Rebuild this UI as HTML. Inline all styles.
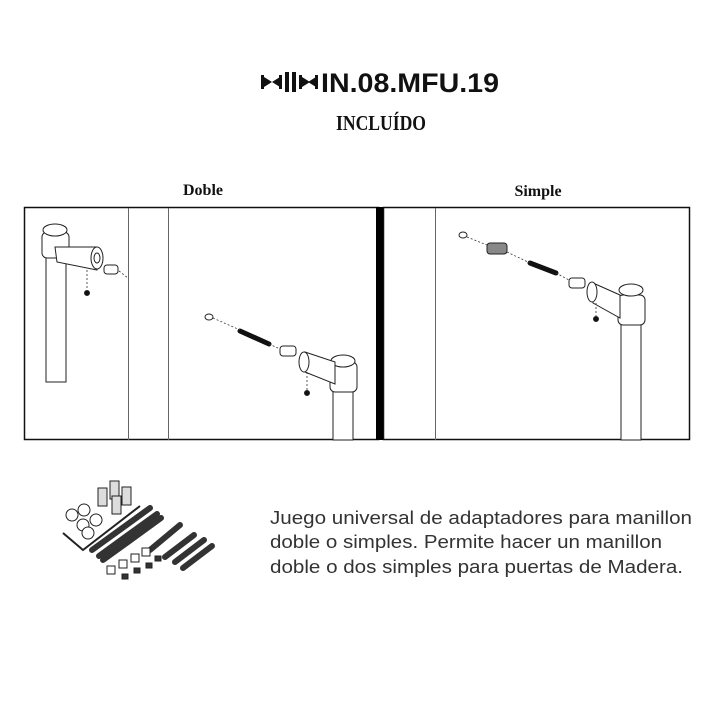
<!DOCTYPE html>
<html><head><meta charset="utf-8"><style>
body{margin:0;background:#fff;width:720px;height:720px;overflow:hidden;font-family:"Liberation Sans",sans-serif}
svg{position:absolute;left:0;top:0}
</style></head><body>
<svg width="720" height="720" viewBox="0 0 720 720">
<g fill="#111">
<rect x="261" y="75" width="3" height="14"/><path d="M264 77 L272 82 L264 87Z"/><path d="M280 77 L272 82 L280 87Z"/>
<rect x="279" y="75" width="3" height="14"/><rect x="285" y="72" width="4" height="20"/><rect x="292" y="72" width="4" height="20"/>
<rect x="299" y="75" width="3" height="14"/><path d="M302 77 L310 82 L302 87Z"/><path d="M316 77 L308 82 L316 87Z"/><rect x="315" y="75" width="3" height="14"/>
</g>
<text x="321" y="92" font-family="Liberation Sans" font-weight="bold" font-size="27" fill="#111" textLength="178" lengthAdjust="spacingAndGlyphs">IN.08.MFU.19</text>
<text x="381" y="130" text-anchor="middle" font-family="Liberation Serif" font-weight="bold" font-size="21" fill="#111" textLength="90" lengthAdjust="spacingAndGlyphs">INCLUÍDO</text>
<text x="203" y="195" text-anchor="middle" font-family="Liberation Serif" font-weight="bold" font-size="16" fill="#111">Doble</text>
<text x="538" y="196" text-anchor="middle" font-family="Liberation Serif" font-weight="bold" font-size="16" fill="#111">Simple</text>
<g fill="none" stroke="#111">
<rect x="24.5" y="207.5" width="354" height="232" stroke-width="1.5"/>
<rect x="383.5" y="207.5" width="306" height="232" stroke-width="1.5"/>
<line x1="128.5" y1="208" x2="128.5" y2="440" stroke="#666"/>
<line x1="168.5" y1="208" x2="168.5" y2="440" stroke="#666"/>
<line x1="435.5" y1="208" x2="435.5" y2="440" stroke="#666"/>
</g>
<rect x="376" y="207" width="7" height="233" fill="#000"/>
<g fill="#fff" stroke="#222" stroke-width="1">
<rect x="46" y="250" width="20" height="132"/>
<rect x="42" y="232" width="27" height="26" rx="5"/>
<ellipse cx="55" cy="230" rx="12" ry="6"/>
<path d="M55 247 L97 247 L97 270 L57 262Z"/>
<ellipse cx="97" cy="258" rx="6" ry="11"/><ellipse cx="97" cy="258" rx="3" ry="5"/>
<rect x="104" y="265" width="14" height="9" rx="3"/>
<circle cx="87" cy="293" r="2.5" fill="#111"/>
<rect x="333" y="385" width="20" height="55"/>
<rect x="330" y="362" width="27" height="30" rx="5"/>
<ellipse cx="343" cy="361" rx="12" ry="6"/>
<path d="M305 352 L335 362 L335 384 L305 372Z"/>
<ellipse cx="304" cy="362" rx="5" ry="10"/>
<rect x="280" y="346" width="16" height="10" rx="3"/>
<ellipse cx="209" cy="317" rx="4" ry="3"/>
<circle cx="307" cy="393" r="2.5" fill="#111"/>
<rect x="621" y="318" width="20" height="122"/>
<rect x="618" y="295" width="27" height="30" rx="5"/>
<ellipse cx="631" cy="290" rx="12" ry="6"/>
<path d="M593 283 L620 295 L620 318 L593 303Z"/>
<ellipse cx="592" cy="292" rx="5" ry="10"/>
<rect x="569" y="278" width="16" height="10" rx="3"/>
<ellipse cx="463" cy="235" rx="4" ry="3"/>
<rect x="487" y="243" width="20" height="11" rx="3" fill="#888"/>
<circle cx="596" cy="319" r="2.5" fill="#111"/>
</g>
<g stroke="#111" stroke-width="5" stroke-linecap="round">
<line x1="240" y1="331" x2="269" y2="344"/>
<line x1="530" y1="263" x2="556" y2="273"/>
</g>
<g stroke="#333" stroke-width="0.8" stroke-dasharray="2,2" fill="none">
<line x1="119" y1="271" x2="128" y2="278"/><line x1="87" y1="270" x2="87" y2="290"/>
<line x1="213" y1="318" x2="240" y2="330"/><line x1="269" y1="344" x2="280" y2="349"/>
<line x1="307" y1="372" x2="307" y2="390"/>
<line x1="467" y1="237" x2="487" y2="245"/><line x1="507" y1="252" x2="530" y2="263"/><line x1="556" y1="273" x2="569" y2="280"/>
<line x1="596" y1="303" x2="596" y2="316"/>
</g>
<g stroke="#222" stroke-width="1">
<g stroke-width="6" stroke="#333" stroke-linecap="round">
<line x1="92" y1="550" x2="150" y2="508"/><line x1="99" y1="556" x2="157" y2="514"/>
<line x1="103" y1="560" x2="161" y2="518"/><line x1="150" y1="550" x2="180" y2="525"/>
<line x1="165" y1="557" x2="194" y2="535"/><line x1="175" y1="562" x2="204" y2="540"/>
<line x1="183" y1="568" x2="212" y2="546"/>
</g>
<polyline points="63,533 83,550 140,506" fill="none" stroke-width="2"/>
<g fill="#ddd">
<rect x="98" y="488" width="9" height="18"/><rect x="110" y="481" width="9" height="18"/><rect x="122" y="487" width="9" height="18"/><rect x="112" y="496" width="9" height="18"/>
<circle cx="72" cy="515" r="6" fill="#fff"/><circle cx="84" cy="510" r="6" fill="#fff"/><circle cx="96" cy="520" r="6" fill="#fff"/><circle cx="83" cy="525" r="6" fill="#fff"/><circle cx="88" cy="533" r="6" fill="#fff"/>
<rect x="107" y="566" width="8" height="8" fill="#fff"/><rect x="119" y="560" width="8" height="8" fill="#fff"/><rect x="131" y="554" width="8" height="8" fill="#fff"/><rect x="142" y="548" width="8" height="8" fill="#fff"/>
<rect x="122" y="574" width="6" height="5" fill="#333"/><rect x="134" y="568" width="6" height="5" fill="#333"/><rect x="146" y="563" width="6" height="5" fill="#333"/><rect x="155" y="556" width="6" height="5" fill="#333"/>
</g>
</g>
<g font-family="Liberation Sans" font-size="18" fill="#333">
<text x="270" y="524" textLength="422" lengthAdjust="spacingAndGlyphs">Juego universal de adaptadores para manillon</text>
<text x="270" y="548" textLength="392" lengthAdjust="spacingAndGlyphs">doble o simples. Permite hacer un manillon</text>
<text x="270" y="573" textLength="413" lengthAdjust="spacingAndGlyphs">doble o dos simples para puertas de Madera.</text>
</g>
</svg>
</body></html>
